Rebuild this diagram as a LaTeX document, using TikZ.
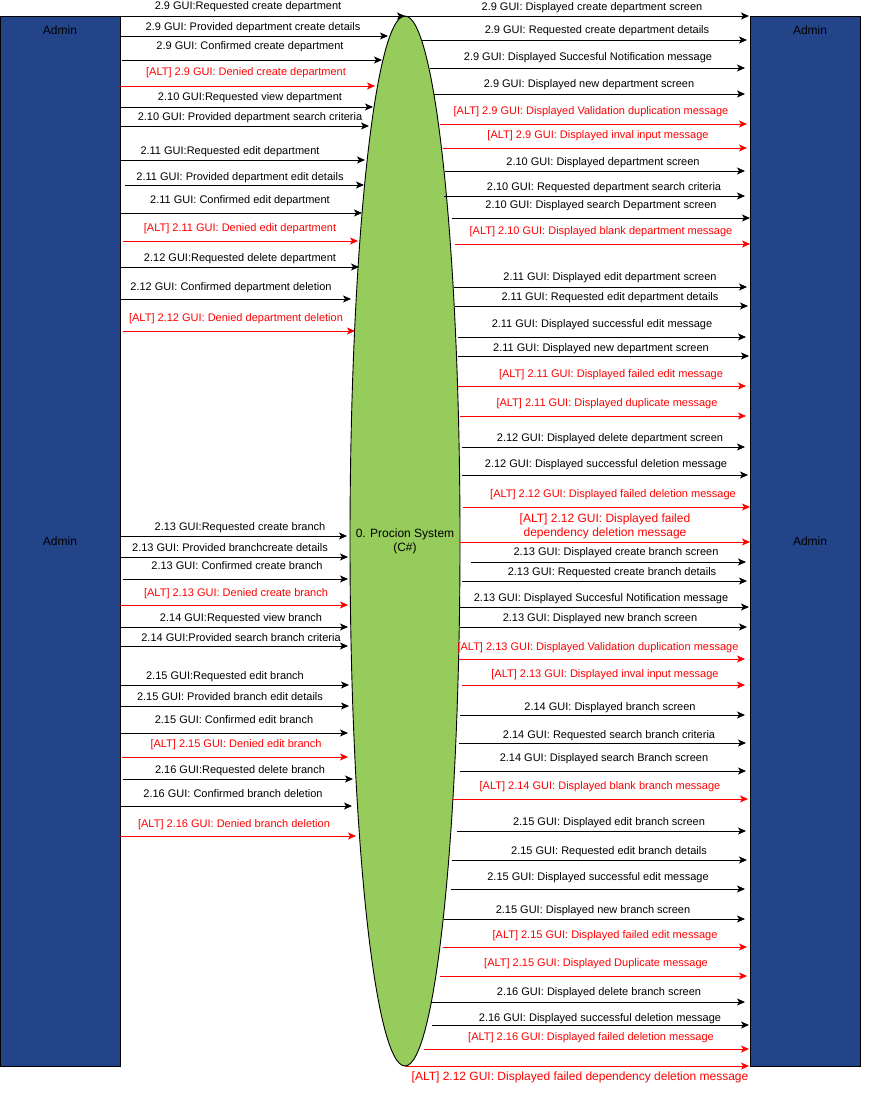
\documentclass[tikz,border=0pt]{standalone}
\usepackage{fontspec}
\setmainfont{Liberation Sans}
\usetikzlibrary{arrows.meta,shapes.geometric}
\definecolor{adminblue}{RGB}{35,68,136}
\definecolor{sysgreen}{RGB}{150,204,92}
\definecolor{altred}{RGB}{255,0,0}

\begin{document}
\begin{tikzpicture}[x=1pt,y=-1pt,font=\fontsize{11}{13}\selectfont,
  actor/.style={draw=black,fill=adminblue,line width=0.9pt,minimum width=120pt,minimum height=1050pt,inner sep=0pt},
  msg/.style={line width=0.9pt,-{Stealth[length=8pt,width=7pt,inset=2pt]}},
  msglab/.style={anchor=base,inner sep=0pt},
  biglab/.style={font=\fontsize{12}{14}\selectfont}]
\useasboundingbox (0,0) rectangle (871,1097);
\node[actor] (adminL) at (60,541) {};
\node[actor,minimum width=110pt] (adminR) at (805,541) {};
\node[draw=black,fill=sysgreen,line width=0.9pt,ellipse,minimum width=110pt,minimum height=1050pt,inner sep=0pt] (sys) at (405,541) {};
\node[anchor=base,biglab] (adminLtop) at (60,35) {Admin};
\node[anchor=base,biglab] (adminLmid) at (60,545) {Admin};
\node[anchor=base,biglab] (adminRtop) at (810,35) {Admin};
\node[anchor=base,biglab] (adminRmid) at (810,545) {Admin};
\node[align=center,inner sep=0pt,biglab] (syslab) at (sys.center) {0. Procion System\\(C\#)};
\foreach \i/\ya/\xa/\xb/\ly/\lx/\col/\lab in {
 1/16/120/405/6/248/black/2.9 GUI:Requested create department,
 2/36/120/388/27/253/black/2.9 GUI: Provided department create details,
 3/60/122/382/46/250/black/2.9 GUI: Confirmed create department,
 4/86/120/375/72/246/altred/[ALT] 2.9 GUI: Denied create department,
 5/107/120/373/97/250/black/2.10 GUI:Requested view department,
 6/126/120/369/117/250/black/2.10 GUI: Provided department search criteria,
 7/160/120/365/150/230/black/2.11 GUI:Requested edit department,
 8/185/125/364/176/240/black/2.11 GUI: Provided department edit details,
 9/213/120/362/199/240/black/2.11 GUI: Confirmed edit department,
 10/241/123/358/227/240/altred/[ALT] 2.11 GUI: Denied edit department,
 11/267/120/359/257/240/black/2.12 GUI:Requested delete department,
 12/299/120/351/286/231/black/2.12 GUI: Confirmed department deletion,
 13/331/123/355/317/236/altred/[ALT] 2.12 GUI: Denied department deletion,
 14/536/120/347/526/240/black/2.13 GUI:Requested create branch,
 15/557/120/348/547/230/black/2.13 GUI: Provided branchcreate details,
 16/579/123/348/565/237/black/2.13 GUI: Confirmed create branch,
 17/605/120/348/592/236/altred/[ALT] 2.13 GUI: Denied create branch,
 18/627/120/348/617/241/black/2.14 GUI:Requested view branch,
 19/646/120/348/637/241/black/2.14 GUI:Provided search branch criteria,
 20/685/120/349/675/225/black/2.15 GUI:Requested edit branch,
 21/706/120/349/696/230/black/2.15 GUI: Provided branch edit details,
 22/733/120/348/719/234/black/2.15 GUI: Confirmed edit branch,
 23/757/122/348/743/236/altred/[ALT] 2.15 GUI: Denied edit branch,
 24/779/123/353/769/240/black/2.16 GUI:Requested delete branch,
 25/806/120/352/793/233/black/2.16 GUI: Confirmed branch deletion,
 26/836/120/356/823/234/altred/[ALT] 2.16 GUI: Denied branch deletion}{
\coordinate (in\i-a) at (\xa,\ya);
\coordinate (in\i-b) at (\xb,\ya);
\draw[msg,\col] (in\i-a) -- (in\i-b);
\node[msglab,text=\col] (inlab\i) at (\lx,\ly+4) {\lab};}
\foreach \i/\ya/\xa/\xb/\ly/\lx/\col/\lab in {
 1/16/400/749/7/592/black/2.9 GUI: Displayed create department screen,
 2/40/422/747/30/597/black/2.9 GUI: Requested create department details,
 3/68/430/745/57/588/black/2.9 GUI: Displayed Succesful Notification message,
 4/94/434/745/84/589/black/2.9 GUI: Displayed new department screen,
 5/124/440/747/111/591/altred/[ALT] 2.9 GUI: Displayed Validation duplication message,
 6/148/443/747/135/598/altred/[ALT] 2.9 GUI: Displayed inval input message,
 7/171/445/745/161/603/black/2.10 GUI: Displayed department screen,
 8/196/444/745/186/604/black/2.10 GUI: Requested department search criteria,
 9/218/452/750/204/601/black/2.10 GUI: Displayed search Department screen,
 10/244/455/750/230/601/altred/[ALT] 2.10 GUI: Displayed blank department message,
 11/287/454/747/276/610/black/2.11 GUI: Displayed edit department screen,
 12/306/455/748/296/610/black/2.11 GUI: Requested edit department details,
 13/337/458/746/323/602/black/2.11 GUI: Displayed successful edit message,
 14/356/458/749/347/601/black/2.11 GUI: Displayed new department screen,
 15/386/458/746/373/611/altred/[ALT] 2.11 GUI: Displayed failed edit message,
 16/416/460/746/402/607/altred/[ALT] 2.11 GUI: Displayed duplicate message,
 17/447/462/745/437/610/black/2.12 GUI: Displayed delete department screen,
 18/475/462/748/463/606/black/2.12 GUI: Displayed successful deletion message,
 19/507/463/750/493/613/altred/[ALT] 2.12 GUI: Displayed failed deletion message,
 21/562/471/746/551/616/black/2.13 GUI: Displayed create branch screen,
 22/581/462/747/571/612/black/2.13 GUI: Requested create branch details,
 23/607/460/749/597/601/black/2.13 GUI: Displayed Succesful Notification message,
 24/627/460/747/617/600/black/2.13 GUI: Displayed new branch screen,
 25/659/459/745/646/598/altred/[ALT] 2.13 GUI: Displayed Validation duplication message,
 26/685/462/745/673/605/altred/[ALT] 2.13 GUI: Displayed inval input message,
 27/715/460/745/706/610/black/2.14 GUI: Displayed branch screen,
 28/743/459/746/734/609/black/2.14 GUI: Requested search branch criteria,
 29/771/460/746/757/604/black/2.14 GUI: Displayed search Branch screen,
 30/799/452/748/785/600/altred/[ALT] 2.14 GUI: Displayed blank branch message,
 31/831/457/746/821/609/black/2.15 GUI: Displayed edit branch screen,
 32/860/452/747/850/609/black/2.15 GUI: Requested edit branch details,
 33/889/451/745/876/598/black/2.15 GUI: Displayed successful edit message,
 34/919/444/745/909/593/black/2.15 GUI: Displayed new branch screen,
 35/947/443/747/934/605/altred/[ALT] 2.15 GUI: Displayed failed edit message,
 36/976/440/747/962/596/altred/[ALT] 2.15 GUI: Displayed Duplicate message,
 37/1002/431/745/991/599/black/2.16 GUI: Displayed delete branch screen,
 38/1025/432/749/1017/600/black/2.16 GUI: Displayed successful deletion message,
 39/1049/424/749/1036/591/altred/[ALT] 2.16 GUI: Displayed failed deletion message}{
\coordinate (out\i-a) at (\xa,\ya);
\coordinate (out\i-b) at (\xb,\ya);
\draw[msg,\col] (out\i-a) -- (out\i-b);
\node[msglab,text=\col] (outlab\i) at (\lx,\ly+4) {\lab};}
\coordinate (out20-a) at (460,542);
\coordinate (out20-b) at (750,542);
\draw[msg,altred] (out20-a) -- (out20-b);
\node[align=center,inner sep=0pt,text=altred,biglab] (outlab20) at (605,526) {[ALT] 2.12 GUI: Displayed failed\\dependency deletion message};
\coordinate (out40-a) at (405,1066);
\coordinate (out40-b) at (749,1066);
\draw[msg,altred] (out40-a) -- (out40-b);
\node[msglab,text=altred,biglab] (outlab40) at (580,1080) {[ALT] 2.12 GUI: Displayed failed dependency deletion message};
\end{tikzpicture}
\end{document}
